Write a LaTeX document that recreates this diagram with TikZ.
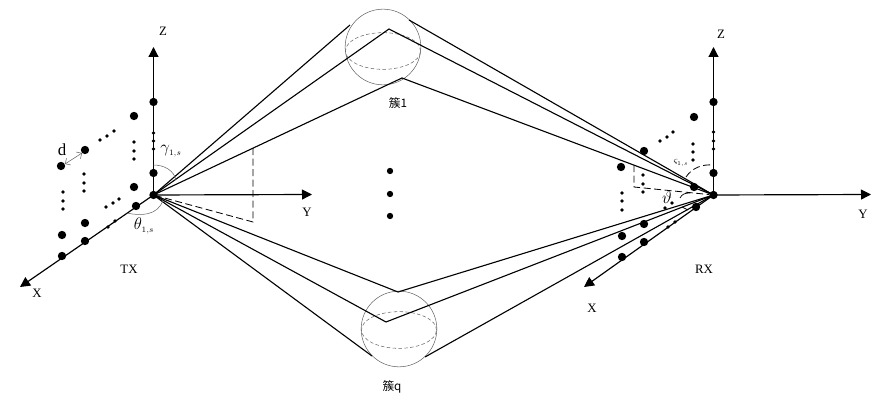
\documentclass[tikz,border=0pt]{standalone}
\usepackage{fontspec}
\setmainfont{Liberation Serif}
\newfontfamily\cjkfont{Noto Sans CJK SC}
\usetikzlibrary{arrows.meta,shapes.geometric}
\definecolor{sphere-gray}{gray}{0.4}
\tikzstyle{bigdotstyle}=[shape=circle,fill=black,inner sep=0pt,minimum size=0.25cm]
\tikzstyle{smalldotstyle}=[shape=circle,fill=black,inner sep=0pt,minimum size=0.11cm]
\tikzstyle{middotstyle}=[shape=circle,fill=black,inner sep=0pt,minimum size=0.19cm]
\tikzstyle{axisstyle}=[line width=1pt,-{Triangle[length=0.3cm,width=0.3cm]}]
\tikzstyle{raystyle}=[line width=0.95pt]
\tikzstyle{spherestyle}=[shape=circle,draw=sphere-gray,line width=0.45pt,inner sep=0pt,minimum size=2.27cm]
\tikzstyle{equatorstyle}=[shape=ellipse,draw=sphere-gray,densely dashed,line width=0.45pt,inner sep=0pt,minimum width=2.25cm,minimum height=1.1cm]
\tikzstyle{arcstyle}=[draw=sphere-gray,line width=0.45pt]
\tikzstyle{projstyle}=[line width=0.7pt,dash pattern=on 6pt off 3pt]
\tikzstyle{labelstyle}=[inner sep=0pt,font=\fontsize{10.95}{13}\selectfont]
\newcommand{\bigdot}[3]{ \draw (#2,#3) node [style=bigdotstyle] (#1) {}; }
\newcommand{\smalldots}[1]{ \foreach \px/\py in {#1} { \node [style=smalldotstyle] (s\px-\py) at (\px,\py) {}; } }
\newcommand{\rayline}[3]{ \draw [style=raystyle] (#1.center) -- (#2) -- (#3.center); }
\begin{document}
\begin{tikzpicture}[x=0.03cm,y=-0.03cm]
\useasboundingbox (0,0) rectangle (883,404);
% clusters
\node [style=spherestyle] (sphereone) at (383,47) {};
\node [style=equatorstyle] (equatorone) at (383,51) {};
\node [style=spherestyle] (sphereq) at (399,329) {};
\node [style=equatorstyle] (equatorq) at (399,330) {};
% TX array
\bigdot{txo}{153.5}{195}
\coordinate (txztip) at (153.5,47);
\coordinate (txytip) at (312,194.5);
\coordinate (txxtip) at (20,287);
\draw [style=axisstyle] (txo.center) -- (txztip);
\draw [style=axisstyle] (txo.center) -- (txytip);
\draw [style=axisstyle] (txo.center) -- (txxtip);
\bigdot{txza}{153.5}{102}
\bigdot{txzb}{153.5}{173}
\bigdot{txa}{134}{116}
\bigdot{txb}{134}{187}
\bigdot{txc}{85}{150}
\bigdot{txd}{61}{166}
\bigdot{txe}{85}{223}
\bigdot{txf}{62}{235}
\bigdot{txg}{136}{206}
\bigdot{txh}{85}{241}
\bigdot{txi}{62}{256}
\smalldots{153.5/133,153.5/141,153.5/149,100/140,107/136,114/131,134/142,134/151,134/159,84/174,84/183,84/191,63/192,63/201,63/209,106/207,113/203,119/199,108/227,115/221}
% RX array
\bigdot{rxo}{713.5}{195}
\coordinate (rxztip) at (713.5,47);
\coordinate (rxytip) at (871,194.5);
\coordinate (rxxtip) at (584,287);
\draw [style=axisstyle] (rxo.center) -- (rxztip);
\draw [style=axisstyle] (rxo.center) -- (rxytip);
\draw [style=axisstyle] (rxo.center) -- (rxxtip);
\bigdot{rxza}{713.5}{102}
\bigdot{rxzb}{713.5}{173}
\bigdot{rxa}{694}{117}
\bigdot{rxb}{694}{187}
\bigdot{rxc}{644}{151}
\bigdot{rxd}{621}{167}
\bigdot{rxe}{644}{224}
\bigdot{rxf}{622}{236}
\bigdot{rxg}{696}{207}
\bigdot{rxh}{644}{242}
\bigdot{rxi}{622}{257}
\smalldots{713.5/132,713.5/141,713.5/149,660/141,667/137,673/132,693/144,693/152,693/160,643/175,643/184,643/192,622/193,622/201,622/210,665/208,672/203,668/227,675/222}
% rays
\coordinate (upa) at (350,25);
\coordinate (upb) at (409,20);
\coordinate (upc) at (389,29);
\coordinate (upd) at (402,78);
\coordinate (dna) at (372,356);
\coordinate (dnb) at (425,357);
\coordinate (dnc) at (386,322);
\coordinate (dnd) at (398,292);
\draw [style=raystyle] (txo.center) -- (upa);
\draw [style=raystyle] (upb) -- (rxo.center);
\draw [style=raystyle] (txo.center) -- (dna);
\draw [style=raystyle] (dnb) -- (rxo.center);
\rayline{txo}{upc}{rxo}
\rayline{txo}{upd}{rxo}
\rayline{txo}{dnc}{rxo}
\rayline{txo}{dnd}{rxo}
\node [style=middotstyle] (cdota) at (390,171) {};
\node [style=middotstyle] (cdotb) at (390,194) {};
\node [style=middotstyle] (cdotc) at (390,216) {};
% projections
\coordinate (txp) at (253,148);
\coordinate (txq) at (253,222);
\draw [style=projstyle] (txp) -- (txq) -- (txo);
\coordinate (rxp) at (634,165);
\coordinate (rxq) at (634,187);
\draw [style=projstyle] (rxp) -- (rxq) -- (rxo);
% angles
\coordinate (gama) at (153.5,165);
\coordinate (gamb) at (176,180);
\draw [style=arcstyle] (gama) .. controls (165,165) and (174,171) .. (gamb);
\coordinate (thea) at (127,213);
\coordinate (theb) at (163,200);
\draw [style=arcstyle] (thea) .. controls (140,216) and (158,216) .. (theb);
\coordinate (vsa) at (686,177);
\coordinate (vsb) at (713.5,165);
\draw [style=projstyle] (vsa) .. controls (692,168) and (702,164) .. (vsb);
\coordinate (vta) at (680,198);
\coordinate (vtb) at (690,193);
\draw [line width=0.6pt] (vta) .. controls (682,194) and (685,193) .. (vtb);
\coordinate (vtc) at (682,207);
\coordinate (vtd) at (688,210);
\draw [line width=0.6pt] (vtc) -- (vtd);
\coordinate (da) at (65,164);
\coordinate (db) at (82,153);
\draw [draw=sphere-gray,line width=0.45pt,{Straight Barb[length=0.12cm]}-{Straight Barb[length=0.12cm]}] (da) -- (db);
% labels
\node [style=labelstyle] (txzl) at (163,31) {Z};
\node [style=labelstyle] (txyl) at (307,212) {Y};
\node [style=labelstyle] (txxl) at (37,293) {X};
\node [style=labelstyle] (txl) at (129,269) {TX};
\node [style=labelstyle] (rxzl) at (721,34) {Z};
\node [style=labelstyle] (rxyl) at (863,214) {Y};
\node [style=labelstyle] (rxxl) at (592,308) {X};
\node [style=labelstyle] (rxl) at (704,269) {RX};
\node [style=labelstyle,font=\Large] (dl) at (62,150) {d};
\node [style=labelstyle,font=\Large] (gaml) at (171,151) {$\gamma_{\scriptscriptstyle 1,s}$};
\node [style=labelstyle,font=\Large] (thel) at (144,226) {$\theta_{\scriptscriptstyle 1,s}$};
\node [style=labelstyle,font=\footnotesize] (vsl) at (681,163) {$\varsigma_{\scriptscriptstyle 1,s}$};
\node [style=labelstyle,font=\Large] (vtl) at (667,198) {$\vartheta$};
\node [style=labelstyle,font=\normalsize\cjkfont] (clone) at (398,103) {簇1};
\node [style=labelstyle,font=\normalsize\cjkfont] (clq) at (392,387) {簇q};
\end{tikzpicture}
\end{document}
